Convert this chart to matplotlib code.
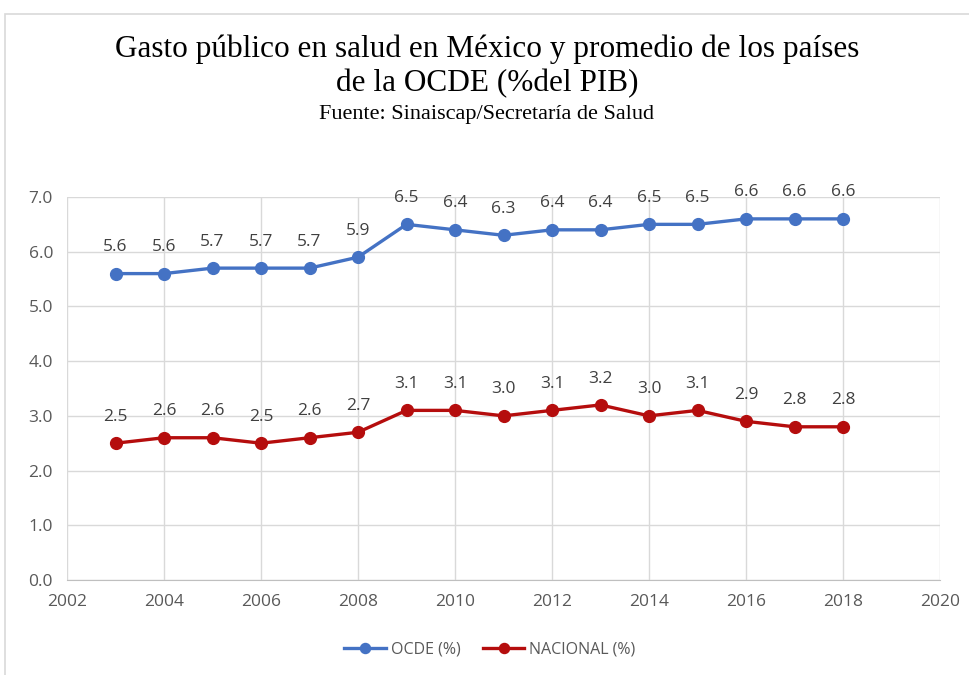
import matplotlib.pyplot as plt
from matplotlib.patches import Rectangle

years = [2003, 2004, 2005, 2006, 2007, 2008, 2009, 2010, 2011,
         2012, 2013, 2014, 2015, 2016, 2017, 2018]
ocde = [5.6, 5.6, 5.7, 5.7, 5.7, 5.9, 6.5, 6.4, 6.3,
        6.4, 6.4, 6.5, 6.5, 6.6, 6.6, 6.6]
nacional = [2.5, 2.6, 2.6, 2.5, 2.6, 2.7, 3.1, 3.1, 3.0,
            3.1, 3.2, 3.0, 3.1, 2.9, 2.8, 2.8]

BLUE = "#4472C4"
RED = "#B50D0D"
TXT = "#404040"

fig = plt.figure(figsize=(9.7, 6.75), dpi=100)
# thin frame around the chart area
fig.patches.append(Rectangle((5 / 970, -0.01), 1.0, 1 - 14 / 675 + 0.01,
                             transform=fig.transFigure, fill=False,
                             edgecolor="#d9d9d9", linewidth=1.2))

ax = fig.add_axes([67 / 970, (675 - 580) / 675, 873 / 970, 383 / 675])

for vals, col, name in [(ocde, BLUE, "OCDE (%)"), (nacional, RED, "NACIONAL (%)")]:
    ax.plot(years, vals, color=col, lw=2.4, marker="o", ms=8.5, label=name)
    for x, y in zip(years, vals):
        ax.annotate(f"{y:.1f}", (x, y), xytext=(0, 19), textcoords="offset points",
                    ha="center", va="center", fontsize=12.5, color=TXT,
                    family="Open Sans")

ax.set_xlim(2002, 2020)
ax.set_ylim(0, 7)
ax.set_xticks(range(2002, 2021, 2))
ax.set_yticks(range(0, 8))
ax.set_yticklabels([f"{v:.1f}" for v in range(0, 8)])
ax.grid(True, color="#d9d9d9", lw=1)
ax.set_axisbelow(True)
for s in ["top", "right", "left"]:
    ax.spines[s].set_visible(False)
ax.spines["bottom"].set_color("#bfbfbf")
ax.tick_params(length=0, labelsize=12.5, labelcolor="#595959", pad=10)
for lab in ax.get_xticklabels() + ax.get_yticklabels():
    lab.set_family("Open Sans")

fig.text(0.502, 1 - 49 / 675, "Gasto público en salud en México y promedio de los países",
         ha="center", va="center", fontsize=22.5, family="Liberation Serif")
fig.text(0.502, 1 - 84 / 675, "de la OCDE (%del PIB)",
         ha="center", va="center", fontsize=22.5, family="Liberation Serif")
fig.text(0.502, 1 - 114 / 675, "Fuente: Sinaiscap/Secretaría de Salud",
         ha="center", va="center", fontsize=16, family="Liberation Serif")

leg = fig.legend(loc="center", bbox_to_anchor=(0.505, 1 - 650 / 675), ncol=2,
                 frameon=False, handlelength=2.6, columnspacing=1.4,
                 handletextpad=0.3, markerscale=0.85,
                 prop={"family": "Open Sans", "size": 11.5})
for t in leg.get_texts():
    t.set_color("#595959")

fig.savefig("out.png", dpi=100)
